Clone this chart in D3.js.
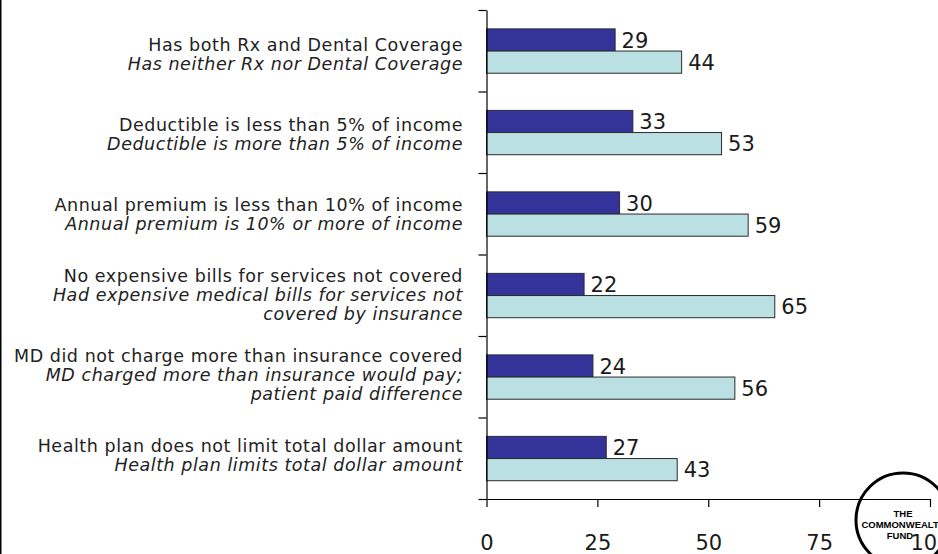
<!DOCTYPE html>
<html>
<head>
<meta charset="utf-8">
<script src="https://cdn.jsdelivr.net/npm/d3@7"></script>
<style>
  html, body { margin: 0; padding: 0; background: #fff; }
  svg { display: block; }
</style>
</head>
<body>
<svg id="chart" width="938" height="554"></svg>
<script>
// Favourable circumstance (first line) vs. unfavourable circumstance (italic lines)
const positiveLabels = [
  "Has both Rx and Dental Coverage",
  "Deductible is less than 5% of income",
  "Annual premium is less than 10% of income",
  "No expensive bills for services not covered",
  "MD did not charge more than insurance covered",
  "Health plan does not limit total dollar amount"
];
const negativeLabels = [
  ["Has neither Rx nor Dental Coverage"],
  ["Deductible is more than 5% of income"],
  ["Annual premium is 10% or more of income"],
  ["Had expensive medical bills for services not", "covered by insurance"],
  ["MD charged more than insurance would pay;", "patient paid difference"],
  ["Health plan limits total dollar amount"]
];
const positiveValues = [29, 33, 30, 22, 24, 27];
const negativeValues = [44, 53, 59, 65, 56, 43];
const xTicks = [0, 25, 50, 75, 100];

const svg = d3.select("#chart");
const groups = d3.range(positiveLabels.length);

const x = d3.scaleLinear().domain([0, 100]).range([486.5, 930]);
const y = d3.scaleBand().domain(groups).range([10, 499]).padding(0);
const barH = y.bandwidth() * 0.272;

// frame line along the left edge
svg.append("rect").attr("x", 0).attr("y", 0).attr("width", 1.5).attr("height", 554).attr("fill", "#000");

// bars
const g = svg.append("g");
groups.forEach(i => {
  const mid = y(i) + y.bandwidth() / 2 + 0.3;
  g.append("rect")
    .attr("x", x(0)).attr("y", mid - barH)
    .attr("width", x(positiveValues[i]) - x(0)).attr("height", barH)
    .attr("fill", "#333399").attr("stroke", "#2a2a3a").attr("stroke-width", 1);
  g.append("rect")
    .attr("x", x(0)).attr("y", mid)
    .attr("width", x(negativeValues[i]) - x(0)).attr("height", barH)
    .attr("fill", "#bbe0e3").attr("stroke", "#2a2a2a").attr("stroke-width", 1);

  const valFont = "21px 'DejaVu Sans'";
  g.append("text")
    .attr("x", x(positiveValues[i]) + 6.5).attr("y", mid - barH / 2 + 7.8)
    .style("font", valFont).attr("fill", "#1a1a1a")
    .text(positiveValues[i]);
  g.append("text")
    .attr("x", x(negativeValues[i]) + 6.5).attr("y", mid + barH / 2 + 7.8)
    .style("font", valFont).attr("fill", "#1a1a1a")
    .text(negativeValues[i]);
});

// category labels, right-aligned against the axis
const labelCenter = d3.scalePoint().domain(groups).range([54, 455]);
const lineH = 19;
groups.forEach(i => {
  const lines = [{t: positiveLabels[i], it: false}].concat(negativeLabels[i].map(t => ({t, it: true})));
  const top = labelCenter(i) - (lines.length - 1) * lineH / 2;
  lines.forEach((ln, k) => {
    svg.append("text")
      .attr("x", 463).attr("y", top + k * lineH + 6.3)
      .attr("text-anchor", "end")
      .style("font-family", "'DejaVu Sans'")
      .style("font-size", "17.5px")
      .style("letter-spacing", "0.55px")
      .style("font-style", ln.it ? "italic" : "normal")
      .attr("fill", "#222")
      .text(ln.t);
  });
});

// y axis: ticks at the group boundaries
const yb = d3.scaleLinear().domain([0, groups.length]).range([10, 499]);
svg.append("g")
  .attr("transform", `translate(${x(0)},0)`)
  .call(d3.axisLeft(yb).tickValues(d3.range(groups.length + 1)).tickSize(8).tickSizeOuter(0).tickFormat(""))
  .call(a => a.selectAll("path,line").attr("stroke", "#000").attr("stroke-width", 1.2));

// x axis
const xAxis = svg.append("g")
  .attr("transform", "translate(0,499)")
  .call(d3.axisBottom(x).tickValues(xTicks).tickSize(8).tickSizeOuter(0).tickPadding(28))
  .call(a => a.selectAll("path,line").attr("stroke", "#000").attr("stroke-width", 1.2));
xAxis.selectAll("text")
  .style("font-family", "'DejaVu Sans'").style("font-size", "21px").attr("fill", "#1a1a1a");

// Commonwealth Fund roundel
const logo = svg.append("g").attr("transform", "translate(903,520)");
logo.append("circle").attr("r", 47).attr("fill", "none").attr("stroke", "#000").attr("stroke-width", 3);
[["THE", 0, -3.5], ["COMMONWEALTH", 0.5, 7.5], ["FUND", -3, 18.5]].forEach(([t, dx, dy]) => {
  logo.append("text").attr("x", dx).attr("y", dy).attr("text-anchor", "middle")
    .style("font-family", "'Liberation Sans', Arial, sans-serif").style("font-weight", "bold")
    .style("font-size", "9.5px").attr("fill", "#000").text(t);
});
</script>
</body>
</html>
